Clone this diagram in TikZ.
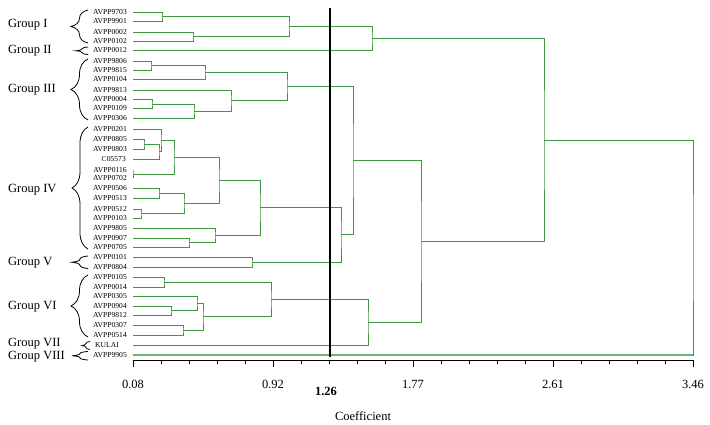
\documentclass[tikz,border=0pt]{standalone}
\usepackage{fontspec}
\setmainfont{Liberation Serif}
\usetikzlibrary{calc,decorations.pathreplacing}
\definecolor{dendro}{RGB}{64,150,64}
\tikzset{
  clade/.style={draw=dendro, line width=0.9pt},
  leaf/.style={anchor=east, inner sep=0pt, font=\fontsize{7.6}{8}\selectfont},
  grouplabel/.style={anchor=west, inner sep=0pt, font=\fontsize{12.5}{14}\selectfont},
  grpbrace/.style={decorate, decoration={brace, amplitude=#1}, line width=0.8pt},
  grpbrace/.default=16,
  ticklabel/.style={inner sep=0pt, font=\fontsize{12.5}{14}\selectfont},
}
% join two clades at height #2
\newcommand{\fuse}[4]{%
  \coordinate (mid) at ($(#3)!0.5!(#4)$);
  \coordinate (#1) at (#2,0 |- mid);
  \draw[clade] (#3) -| (#1) |- (#4);
}
\begin{document}
\begin{tikzpicture}[x=1pt, y=-1pt]
    \useasboundingbox (0,0) rectangle (710,425);

    % Leaves
    \foreach \id/\txt/\y/\xe in {
      9703/AVPP9703/12/127, 9901/AVPP9901/21/127, 0002/AVPP0002/32/127,
      0102/AVPP0102/41/127, 0012/AVPP0012/50.5/127, 9806/AVPP9806/61/127,
      9815/AVPP9815/70/127, 0104/AVPP0104/79.5/127, 9813/AVPP9813/90/127,
      0004/AVPP0004/99.5/127, 0109/AVPP0109/108.5/127, 0306/AVPP0306/118/127,
      0201/AVPP0201/129/127, 0805/AVPP0805/139/127, 0803/AVPP0803/149.5/127,
      c05573/C05573/159/126, 0116/AVPP0116/170/127, 0702/AVPP0702/178/127,
      0506/AVPP0506/188/127, 0513/AVPP0513/198/127, 0512/AVPP0512/209/127,
      0103/AVPP0103/218/127, 9805/AVPP9805/228/127, 0907/AVPP0907/238/127,
      0705/AVPP0705/247/127, 0101/AVPP0101/257/127, 0804/AVPP0804/267/127,
      0105/AVPP0105/277/127, 0014/AVPP0014/287/127, 0305/AVPP0305/296/127,
      0904/AVPP0904/306/127, 9812/AVPP9812/315/127, 0307/AVPP0307/325.5/127,
      0514/AVPP0514/335/127, kulai/KULAI/345.5/119, 9905/AVPP9905/355/127}
    {
      \node[leaf] (t\id) at (\xe,\y) {\txt};
      \coordinate (p\id) at (133,\y);
    }

    % Group I and II
    \fuse{a1}{162}{p9703}{p9901}
    \fuse{a2}{193}{p0002}{p0102}
    \fuse{a3}{289}{a1}{a2}
    \fuse{a4}{372}{a3}{p0012}
    % Group III
    \fuse{b1}{151}{p9806}{p9815}
    \fuse{b2}{205}{b1}{p0104}
    \fuse{b3}{152}{p0004}{p0109}
    \fuse{b4}{194}{b3}{p0306}
    \fuse{b5}{231}{p9813}{b4}
    \fuse{b6}{287}{b2}{b5}
    % Group IV
    \fuse{c1}{144}{p0805}{p0803}
    \fuse{c2}{159}{c1}{pc05573}
    \fuse{c3}{161}{p0201}{c2}
    \fuse{c4}{133}{p0116}{p0702}
    \fuse{c5}{174}{c3}{c4}
    \fuse{c6}{159}{p0506}{p0513}
    \fuse{c7}{141}{p0512}{p0103}
    \fuse{c8}{184}{c6}{c7}
    \fuse{c9}{219}{c5}{c8}
    \fuse{c10}{189}{p0907}{p0705}
    \fuse{c11}{215}{p9805}{c10}
    \fuse{c12}{260}{c9}{c11}
    % Group V
    \fuse{d1}{252}{p0101}{p0804}
    \fuse{e1}{341}{c12}{d1}
    \fuse{e2}{353}{b6}{e1}
    % Group VI and VII
    \fuse{f1}{164}{p0105}{p0014}
    \fuse{f2}{171}{p0904}{p9812}
    \fuse{f3}{197}{p0305}{f2}
    \fuse{f4}{183}{p0307}{p0514}
    \fuse{f5}{203}{f3}{f4}
    \fuse{f6}{271}{f1}{f5}
    \fuse{f7}{368}{f6}{pkulai}
    % Upper levels
    \fuse{g1}{421}{e2}{f7}
    \fuse{g2}{544}{a4}{g1}
    \fuse{root}{693}{g2}{p9905}
    \draw[clade, line width=1.7pt, draw=dendro!75] (p9905) -- (root |- p9905);

    % Group braces
    \draw[grpbrace=17] (88,43) -- (88,10);
    \draw[grpbrace=12] (88,54.5) -- (88,47);
    \draw[grpbrace=17] (88,120) -- (88,59);
    \draw[grpbrace=16] (88,249) -- (88,127);
    \draw[grpbrace=16] (88,268.5) -- (88,256);
    \draw[grpbrace=17] (88,337) -- (88,275);
    \draw[grpbrace=8] (90,349.5) -- (90,341.5);
    \draw[grpbrace=16] (88,360) -- (88,351.5);
    \node[grouplabel] (gI) at (8,25) {Group I};
    \node[grouplabel] (gII) at (8,51) {Group II};
    \node[grouplabel] (gIII) at (8,90) {Group III};
    \node[grouplabel] (gIV) at (8,190) {Group IV};
    \node[grouplabel] (gV) at (8,263) {Group V};
    \node[grouplabel] (gVI) at (8,307) {Group VI};
    \node[grouplabel] (gVII) at (8,344) {Group VII};
    \node[grouplabel] (gVIII) at (8,357) {Group VIII};

    % Axis
    \draw[line width=0.7pt] (133,360) -- (693,360);
    \foreach \i in {0,...,20}
      \draw[line width=0.7pt] (133+28*\i,360) -- ++(0,4);
    \foreach \x/\v [count=\k] in {133/0.08, 273/0.92, 413/1.77, 553/2.61, 693/3.46} {
      \draw[line width=0.7pt] (\x,360) -- (\x,367);
      \node[ticklabel] (tick\k) at (\x,384) {\v};
    }

    % Cut-off line
    \draw[line width=2.3pt] (330,8) -- (330,357);
    \node[ticklabel, font=\fontsize{12.5}{14}\selectfont\bfseries] (cut) at (326,391) {1.26};
    \node[ticklabel] (xlabel) at (363,416) {Coefficient};
\end{tikzpicture}
\end{document}
